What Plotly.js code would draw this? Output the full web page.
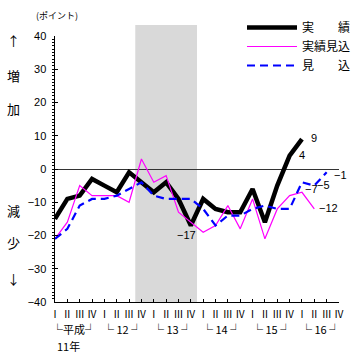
<!DOCTYPE html>
<html>
<head>
<meta charset="utf-8">
<script src="https://cdn.plot.ly/plotly-3.0.1.min.js"></script>
<style>html,body{margin:0;padding:0;background:#fff;}#chart{width:358px;height:354px;}</style>
</head>
<body>
<div id="chart"></div>
<script>
// ---- data ----
const quarterLabels = ['Ⅰ','Ⅱ','Ⅲ','Ⅳ','Ⅰ','Ⅱ','Ⅲ','Ⅳ','Ⅰ','Ⅱ','Ⅲ','Ⅳ','Ⅰ','Ⅱ','Ⅲ','Ⅳ','Ⅰ','Ⅱ','Ⅲ','Ⅳ','Ⅰ','Ⅱ','Ⅲ','Ⅳ'];
const yearLabels = ['└平成┘','└ 12 ┘','└ 13 ┘','└ 14 ┘','└ 15 ┘','└ 16 ┘'];
const seriesNames = ['実　　績','実績見込','見　　込'];
const actual = [-15,-9,-8,-3,-5,-7,-1,-4,-7,-4,-9,-17,-9,-12,-13,-13,-6,-16,-5,4,9];
const actualEstimate = [-21,-16,-5,-8,-8,-8,-10,3,-4,-2,-13,-16,-19,-17,-11,-18,-9,-21,-12,-8,-7,-12];
const forecast = [-21,-18,-11,-9,-9,-8,-6,-4,-8,-9,-9,-9,-12,-17,-14,-14,-12,-11,-12,-12,-4,-5,-1];
const recession = [6.5, 11.5];

const idx = n => Array.from({length:n}, (_, i) => i);
const JP = '"Noto Sans CJK JP", sans-serif';
const NUM = '"Liberation Sans", Arial, sans-serif';

const data = [
  {x: idx(actual.length), y: actual, name: seriesNames[0], mode:'lines',
   line:{color:'#000000', width:4.5}},
  {x: idx(actualEstimate.length), y: actualEstimate, name: seriesNames[1], mode:'lines',
   line:{color:'#FF00FF', width:1.2}},
  {x: idx(forecast.length), y: forecast, name: seriesNames[2], mode:'lines',
   line:{color:'#0000FF', width:2.2, dash:'8px,5px'}}
];

const py = p => (302 - p) / 266;   // pixel y -> paper
const px = p => (p - 55) / 284;    // pixel x -> paper

const annotations = [];
annotations.push({xref:'paper', yref:'paper', x:px(34), y:py(16), text:'(ポイント)', showarrow:false,
  xanchor:'left', yanchor:'middle', font:{family:JP, size:9, color:'#000'}});
const sideChars = [['↑',40],['増',75],['加',108],['減',210],['少',242],['↓',278]];
sideChars.forEach(([t, p]) => annotations.push({xref:'paper', yref:'paper', x:px(13), y:py(p), text:t,
  showarrow:false, xanchor:'center', yanchor:'middle', font:{family:JP, size:13, color:'#000'}}));
yearLabels.forEach((t, k) => annotations.push({xref:'x', yref:'paper', x:4*k+1.5, y:py(329), text:t,
  showarrow:false, xanchor:'center', yanchor:'middle', font:{family:JP, size:11, color:'#000'}}));
annotations.push({xref:'x', yref:'paper', x:0, y:py(346), text:'11年', showarrow:false,
  xanchor:'left', yanchor:'middle', font:{family:JP, size:11, color:'#000'}});

// value labels
const lab = (arr, i, dx, dy, anchor) => ({xref:'x', yref:'y', x:i, y:arr[i], text:String(arr[i]).replace('-', '−'),
  showarrow:false, xanchor:anchor, yanchor:'middle', xshift:dx, yshift:dy, font:{family:NUM, size:11, color:'#000'}});
annotations.push(lab(actual, 20, 7, 1, 'left'));
annotations.push(lab(actual, 19, 7, 1, 'left'));
annotations.push(lab(actual, 11, -4, -9, 'center'));
annotations.push(lab(actualEstimate, 21, 3, 1, 'left'));
annotations.push(lab(actualEstimate, 20, 1, 3, 'left'));
annotations.push(lab(forecast, 21, 1, 1, 'left'));
annotations.push(lab(forecast, 22, 5, -3, 'left'));

const layout = {
  width:358, height:354,
  margin:{l:55, r:19, t:36, b:52, pad:0, autoexpand:false},
  paper_bgcolor:'#ffffff', plot_bgcolor:'rgba(0,0,0,0)',
  font:{family:NUM, size:11, color:'#000'},
  xaxis:{range:[0,23], tickvals:idx(quarterLabels.length), ticktext:quarterLabels,
    showline:true, linecolor:'#000', linewidth:1, ticks:'inside', ticklen:3, tickcolor:'#000',
    showgrid:false, zeroline:false, tickfont:{family:JP, size:10, color:'#000'}, ticklabelstandoff:3, fixedrange:true},
  yaxis:{range:[-40,40], dtick:10, tick0:0, showline:true, linecolor:'#000', linewidth:1.5,
    ticks:'inside', ticklen:3, tickcolor:'#000', showgrid:false,
    minor:{dtick:1, ticks:'outside', ticklen:2, tickcolor:'#000'},
    zeroline:true, zerolinecolor:'#333', zerolinewidth:1,
    tickfont:{family:NUM, size:11, color:'#000'}, ticklabelstandoff:5, fixedrange:true},
  shapes:[{type:'rect', xref:'x', yref:'paper', x0:recession[0], x1:recession[1], y0:0, y1:py(25),
    fillcolor:'#d9d9d9', line:{width:0}, layer:'below'}],
  showlegend:true,
  legend:{x:px(242), y:py(13), xanchor:'left', yanchor:'top', bgcolor:'rgba(0,0,0,0)',
    font:{family:JP, size:12, color:'#000'}, itemwidth:50, tracegroupgap:0, traceorder:'normal'},
  annotations:annotations
};

Plotly.newPlot('chart', data, layout, {displayModeBar:false, staticPlot:true});
</script>
</body>
</html>
